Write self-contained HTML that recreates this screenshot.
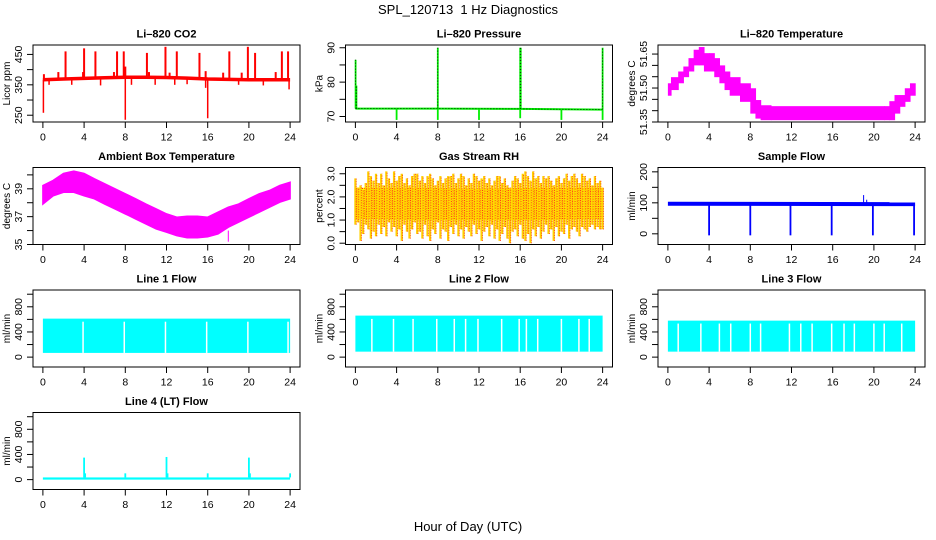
<!DOCTYPE html>
<html><head><meta charset="utf-8"><style>
html,body{margin:0;padding:0;background:#fff;}
svg{display:block;font-family:"Liberation Sans",Arial,sans-serif;}
</style></head><body>
<svg id="c" width="936" height="540" viewBox="0 0 936 540" xmlns="http://www.w3.org/2000/svg">
<defs>
<pattern id="rhpat" width="2" height="2" patternUnits="userSpaceOnUse"><rect width="2" height="2" fill="#ffff00"/><rect width="1" height="1" fill="#ff2020"/></pattern>
</defs>
<text x="468" y="14" text-anchor="middle" font-size="13">SPL_120713&#160; 1 Hz Diagnostics</text>
<text x="468" y="531" text-anchor="middle" font-size="13">Hour of Day (UTC)</text>
</svg>
<script>
// ---------- data ----------
const hourTicks = [0,4,8,12,16,20,24];
// CO2
const co2BaseT = [0,2,4,6,8,10,12,14,16,18,20,22,24];
const co2BaseV = [367,369,371,373,375,375,374,372,369,368,367,367,367];
const co2SpikeT = [2.2,4.0,5.1,7.2,7.85,10.1,11.9,13.0,15.2,18.1,19.9,20.6,23.2,23.8];
const co2SpikeV = [460,470,460,460,460,455,475,460,455,460,475,455,460,460];
const co2DipT = [0.05,8.0,16.0,15.8,23.9,0.6,2.8,5.6,8.6,10.9,12.8,14.0,19.0,21.4];
const co2DipV = [258,235,240,340,335,350,350,348,350,350,350,352,350,348];
const co2SmallT = [1.5,3.9,6.9,8.0,10.3,12.3,15.8,17.5,19.3,22.6,0.1];
const co2SmallV = [392,392,392,410,392,390,395,390,390,392,385];
// Pressure
const prBaseT = [0,8,16,24];
const prBaseV = [72.3,72.3,72.2,72.0];
const prSpikeT = [0.02,0.1,8.0,16.0,16.05,24.0];
const prSpikeV = [86.5,79,90,90,90,90];
const prDipT = [4,8,12,16,20,24];
const prDipV = [69,69,69,69.5,69,69];
// Li-820 temperature
const ltT  = [0,0.3,1,1.5,2,2.5,3,3.5,4,4.5,5,5.5,6,7,8,8.5,9,10,21,21.5,22,22.5,23,23.5,24];
const ltLo = [51.466,51.491,51.521,51.548,51.573,51.600,51.600,51.573,51.573,51.548,51.521,51.491,51.466,51.439,51.387,51.365,51.358,51.358,51.358,51.358,51.387,51.417,51.439,51.466,51.466];
const ltHi = [51.521,51.548,51.573,51.595,51.632,51.669,51.681,51.654,51.654,51.632,51.600,51.573,51.548,51.521,51.499,51.447,51.424,51.420,51.420,51.442,51.469,51.469,51.499,51.521,51.548];
// Ambient box temperature
const abT  = [0,1,2,3,4,5,6,7,8,9,10,11,12,13,14,15,16,17,18,19,20,21,22,23,24];
const abLo = [37.9,38.5,38.75,38.75,38.5,38.28,37.9,37.56,37.2,36.84,36.48,36.12,35.88,35.64,35.48,35.48,35.55,35.76,36.24,36.6,36.96,37.32,37.68,38.04,38.28];
const abHi = [39.24,39.6,40.1,40.27,40.1,39.72,39.36,39.0,38.64,38.28,37.9,37.56,37.2,36.96,37.03,37.03,36.96,37.32,37.68,37.9,38.28,38.64,38.88,39.24,39.47];
// Gas stream RH
const rhHi = [2.8,2.4,2.5,2.3,2.6,3.1,2.9,2.7,3.0,2.6,3.0,2.5,3.1,2.8,2.6,3.1,2.7,2.9,3.0,2.6,2.8,2.5,2.9,3.0,3.0,2.7,2.9,2.6,2.9,3.0,2.8,2.5,2.7,2.9,2.6,2.8,2.9,2.9,3.0,2.6,2.8,3.0,2.9,2.5,2.8,2.6,3.0,2.9,2.7,2.8,2.9,2.6,2.8,2.5,2.7,2.9,2.9,2.6,2.8,2.5,2.4,2.7,2.9,2.8,2.6,3.0,3.1,2.9,2.7,3.1,2.8,2.9,2.6,2.9,2.8,2.9,2.7,2.5,2.8,2.9,2.6,2.8,3.0,2.7,2.9,3.0,2.8,2.6,3.0,2.9,2.7,2.8,2.5,2.9,2.6,2.7,2.4];
const rhLo = [0.8,0.9,0.1,0.4,0.8,0.6,0.2,0.5,0.3,0.8,0.4,0.7,0.3,0.9,0.5,0.7,0.3,0.6,0.1,0.8,0.5,0.2,0.6,0.9,0.4,0.5,0.2,0.8,0.3,0.1,0.6,0.4,0.9,0.2,0.6,0.5,0.1,0.7,0.4,0.8,0.3,0.6,0.2,0.7,0.5,0.3,0.8,0.4,0.6,0.1,0.5,0.7,0.3,0.8,0.2,0.6,0.1,0.4,0.7,0.2,0.0,0.5,0.6,0.3,0.8,0.2,0.1,0.4,0.0,0.6,0.3,0.7,0.2,0.5,0.8,0.4,0.6,0.1,0.7,0.3,0.5,0.4,0.8,0.2,0.6,0.7,0.5,0.3,0.7,0.6,0.5,0.7,0.8,0.6,0.7,0.6,0.6];
const rhCoreT = [0,6,12,18,24];
const rhCoreLo = [1.05,1.0,1.0,1.0,1.05];
const rhCoreHi = [2.4,2.4,2.35,2.4,2.4];
// Sample flow
const sfBaseT = [0,24];
const sfBaseV = [97,96];
const sfDipT = [4,8,11.9,15.9,19.9,23.9];
const sfDipV = [-5,-5,-5,-5,-5,-5];
const sfSpikeT = [19.0,19.3];
const sfSpikeV = [125,110];
// Line flows
const l1Band = [67,612];
const l1Gaps = [3.9,7.9,11.9,15.9,19.9,23.8];
const l2Band = [87,660];
const l2Gaps = [1.6,3.7,5.6,7.9,9.6,10.7,11.9,14.2,15.9,16.6,17.7,20.0,21.7,22.7];
const l3Band = [87,580];
const l3Gaps = [1.0,3.2,5.0,6.1,8.0,9.0,11.8,12.9,14.0,15.9,17.1,18.1,20.0,21.0,22.7];
const l4Base = [0,35];
const l4SpikeT = [4.0,4.1,8.0,12.0,12.1,16.0,20.0,20.1,24.0];
const l4SpikeV = [350,100,100,360,100,100,350,100,100];

// ---------- helpers ----------
const svg = document.getElementById('c');
const NS = 'http://www.w3.org/2000/svg';
function mk(tag, attrs, parent){
  const e = document.createElementNS(NS, tag);
  for (const k in attrs) e.setAttribute(k, attrs[k]);
  (parent||svg).appendChild(e);
  return e;
}
const colX = [33, 345.5, 658], rowY = [45, 167.5, 290, 412.5];
const W = 267, H = 77;
function panel(col,row,title,ylab,ymin,ymax,ticks,labels){
  const L = colX[col], T = rowY[row], B = T + H;
  const g = mk('g',{});
  
  
  const p = {L,T,B,g,
    x: h => L + (h + 0.96) / 25.92 * W,
    y: v => B - (v - ymin) / (ymax - ymin) * H};
  const clip = mk('clipPath',{id:'cl'+col+row}, g);
  mk('rect',{x:L,y:T,width:W,height:H}, clip);
  p.plot = mk('g',{'clip-path':'url(#cl'+col+row+')'}, g);
  
  
  const t = mk('text',{x:L+W/2,y:T-7.5,'text-anchor':'middle','font-size':11,'font-weight':'bold'}, g);
  t.textContent = title;
  
  
  hourTicks.forEach(h=>{
    const xx = p.x(h);
    const tk = mk('line',{x1:xx,x2:xx,y1:B,y2:B+6,stroke:'#000','stroke-width':1}, g);
    
    
    const lb = mk('text',{x:xx,y:B+18.5,'text-anchor':'middle','font-size':10.5}, g);
    lb.textContent = h;
    
    
  });
  ticks.forEach((v,i)=>{
    const yy = p.y(v);
    const tk = mk('line',{x1:L-6,x2:L,y1:yy,y2:yy,stroke:'#000','stroke-width':1}, g);
    
    
    if (labels[i] !== '') {
      const lb = mk('text',{x:L-11,y:yy,'text-anchor':'middle','font-size':10.5,transform:`rotate(-90 ${L-11} ${yy})`}, g);
      lb.textContent = labels[i];
      
      
    }
  });
  const yl = mk('text',{x:L-23,y:T+H/2,'text-anchor':'middle','font-size':10,transform:`rotate(-90 ${L-23} ${T+H/2})`}, g);
  yl.textContent = ylab;
  
  
  p.drawBox = () => {
    const bx = mk('rect',{x:L,y:T,width:W,height:H,fill:'none',stroke:'#000','stroke-width':1}, g);
    
    
  };
  return p;
}
function vline(p,h,v1,v2,color,w,name){
  const e = mk('line',{x1:p.x(h),x2:p.x(h),y1:p.y(v1),y2:p.y(v2),stroke:color,'stroke-width':w}, p.plot);
  
  
  return e;
}
function interp(ts,vs,h){
  for (let i=1;i<ts.length;i++) if (h<=ts[i]) { const f=(h-ts[i-1])/(ts[i]-ts[i-1]); return vs[i-1]+f*(vs[i]-vs[i-1]); }
  return vs[vs.length-1];
}
function polyPath(p,ts,vs){ return ts.map((t,i)=>(i?'L':'M')+p.x(t).toFixed(1)+','+p.y(vs[i]).toFixed(1)).join(''); }

// ---------- CO2 ----------
{
  const p = panel(0,0,'Li\u2013820 CO2','Licor ppm',227.7,481,[250,300,350,400,450],['250','','350','','450']);
  const red = '#ff0000';
  const base = mk('path',{d:polyPath(p,co2BaseT,co2BaseV),fill:'none',stroke:red,'stroke-width':3.5}, p.plot);
  
  
  co2SpikeT.forEach((t,i)=>vline(p,t,interp(co2BaseT,co2BaseV,t),co2SpikeV[i],red,2,'co2-spike'));
  co2DipT.forEach((t,i)=>vline(p,t,interp(co2BaseT,co2BaseV,t),co2DipV[i],red,1.5,'co2-dip'));
  co2SmallT.forEach((t,i)=>vline(p,t,interp(co2BaseT,co2BaseV,t),co2SmallV[i],red,2,'co2-small-spike'));
  p.drawBox();
}
// ---------- Pressure ----------
{
  const p = panel(1,0,'Li\u2013820 Pressure','kPa',68.4,90.8,[70,75,80,85,90],['70','','80','','90']);
  const green = '#00ee00';
  const base = mk('path',{d:polyPath(p,prBaseT,prBaseV),fill:'none',stroke:green,'stroke-width':2}, p.plot);
  
  
  const dots = mk('path',{d:polyPath(p,prBaseT,prBaseV),fill:'none',stroke:'#000','stroke-width':0.8,'stroke-dasharray':'1 2'}, p.plot);
  
  
  prSpikeT.forEach((t,i)=>{ vline(p,t,interp(prBaseT,prBaseV,t),prSpikeV[i],green,1.8,'pressure-spike');
    vline(p,t,interp(prBaseT,prBaseV,t),prSpikeV[i],'#000',0.8,'pressure-spike-points').setAttribute('stroke-dasharray','1 2'); });
  prDipT.forEach((t,i)=>vline(p,t,interp(prBaseT,prBaseV,t),prDipV[i],green,1.8,'pressure-dip'));
  p.drawBox();
}
// ---------- Li-820 Temperature ----------
{
  const p = panel(2,0,'Li\u2013820 Temperature','degrees C',51.35,51.69,[51.35,51.40,51.45,51.50,51.55,51.60,51.65],['51.35','','','51.50','','','51.65']);
  for (let i=0;i<ltT.length-1;i++){
    const x1 = p.x(ltT[i]), x2 = p.x(ltT[i+1]);
    const r = mk('rect',{x:x1,y:p.y(ltHi[i]),width:x2-x1+0.6,height:p.y(ltLo[i])-p.y(ltHi[i]),fill:'#ff00ff'}, p.plot);
    
    
  }
  p.drawBox();
}
// ---------- Ambient box temperature ----------
{
  const p = panel(0,1,'Ambient Box Temperature','degrees C',35,40.53,[35,36,37,38,39,40],['35','','37','','39','']);
  const d = polyPath(p,abT,abHi) + abT.slice().reverse().map((t,i)=>'L'+p.x(t).toFixed(1)+','+p.y(abLo[abLo.length-1-i]).toFixed(1)).join('') + 'Z';
  const band = mk('path',{d:d,fill:'#ff00ff',stroke:'#ff00ff','stroke-width':1.5}, p.plot);
  
  
  vline(p,18,36.0,35.2,'#ff00ff',1,'ambient-dip');
  p.drawBox();
}
// ---------- Gas Stream RH ----------
{
  const p = panel(1,1,'Gas Stream RH','percent',-0.056,3.27,[0,0.5,1,1.5,2,2.5,3],['0.0','','1.0','','2.0','','3.0']);
  const d = polyPath(p,rhCoreT,rhCoreHi) + rhCoreT.slice().reverse().map((t,i)=>'L'+p.x(t).toFixed(1)+','+p.y(rhCoreLo[rhCoreLo.length-1-i]).toFixed(1)).join('') + 'Z';
  const core = mk('path',{d:d,fill:'url(#rhpat)'}, p.plot);
  
  
  const n = rhHi.length;
  for (let i=0;i<n;i++){
    const t = i*24/(n-1);
    vline(p,t,rhLo[i],rhHi[i],'#ffd000',2.2,'rh-excursion');
    vline(p,t+0.08,rhLo[i],rhHi[i],'#ff2020',0.8,'rh-excursion-points').setAttribute('stroke-dasharray','1 1.5');
  }
  p.drawBox();
}
// ---------- Sample Flow ----------
{
  const p = panel(2,1,'Sample Flow','ml/min',-34.5,214,[0,50,100,150,200],['0','','100','','200']);
  const blue = '#0000ff';
  const base = mk('path',{d:polyPath(p,sfBaseT,sfBaseV),fill:'none',stroke:blue,'stroke-width':4}, p.plot);
  
  
  sfDipT.forEach((t,i)=>vline(p,t,interp(sfBaseT,sfBaseV,t),sfDipV[i],blue,1.8,'sample-flow-dip'));
  sfSpikeT.forEach((t,i)=>vline(p,t,interp(sfBaseT,sfBaseV,t),sfSpikeV[i],blue,1,'sample-flow-spike'));
  p.drawBox();
}
// ---------- Line flows ----------
function linePanel(col,row,title,band,gaps,name){
  const p = panel(col,row,title,'ml/min',-157,1067,[0,200,400,600,800,1000],['0','','400','','800','']);
  const r = mk('rect',{x:p.x(0),y:p.y(band[1]),width:p.x(24)-p.x(0),height:p.y(band[0])-p.y(band[1]),fill:'#00ffff'}, p.plot);
  
  
  gaps.forEach(t=>vline(p,t,band[0],band[1]*0.92,'#ffffff',1.5,name+'-gap'));
  p.drawBox();
  return p;
}
linePanel(0,2,'Line 1 Flow',l1Band,l1Gaps,'line1-flow');
linePanel(1,2,'Line 2 Flow',l2Band,l2Gaps,'line2-flow');
linePanel(2,2,'Line 3 Flow',l3Band,l3Gaps,'line3-flow');
{
  const p = panel(0,3,'Line 4 (LT) Flow','ml/min',-157,1067,[0,200,400,600,800,1000],['0','','400','','800','']);
  const r = mk('rect',{x:p.x(0),y:p.y(l4Base[1]),width:p.x(24)-p.x(0),height:p.y(l4Base[0])-p.y(l4Base[1]),fill:'#00ffff'}, p.plot);
  
  
  l4SpikeT.forEach((t,i)=>vline(p,t,l4Base[1],l4SpikeV[i],'#00ffff',1.8,'line4-flow-spike'));
  p.drawBox();
}
</script>
</body></html>
